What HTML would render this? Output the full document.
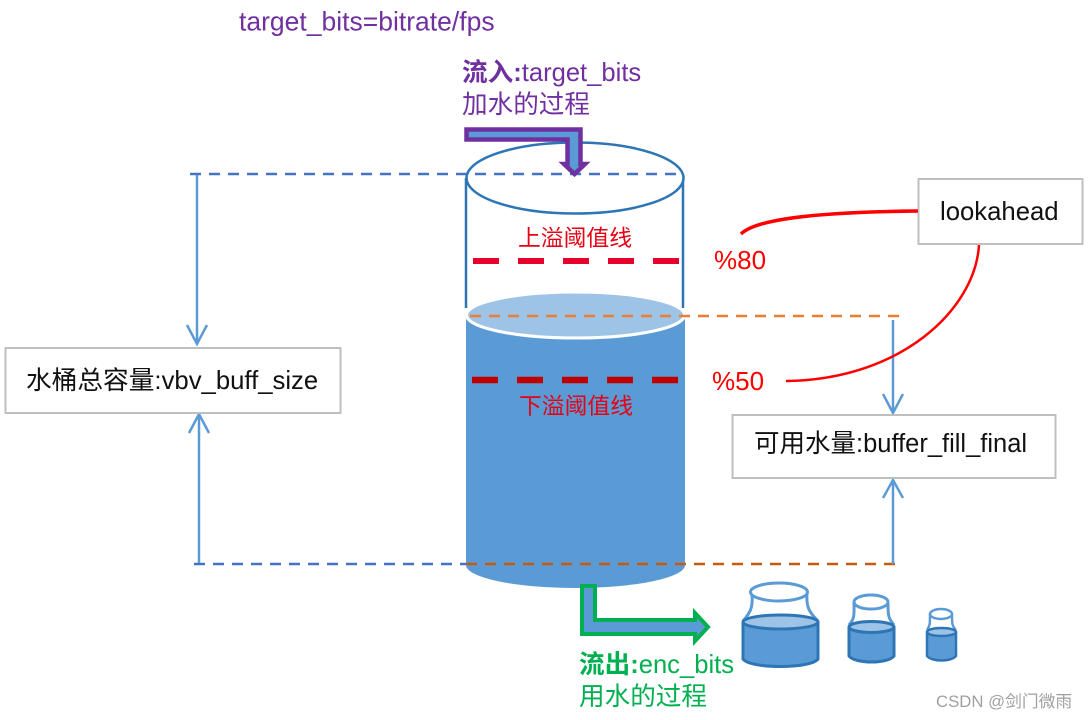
<!DOCTYPE html>
<html>
<head>
<meta charset="utf-8">
<style>
html,body{margin:0;padding:0;background:#fff}
svg{display:block}
text{font-family:"Liberation Sans","Noto Sans CJK SC",sans-serif}
</style>
</head>
<body>
<svg width="1088" height="720" viewBox="0 0 1088 720" xmlns="http://www.w3.org/2000/svg">
<rect width="1088" height="720" fill="#fff"/>

<!-- title -->
<text x="239" y="30.500" font-size="26.500" fill="#7030a0">target_bits=bitrate/fps</text>

<!-- cylinder glass -->
<line x1="466" y1="178" x2="466" y2="308" stroke="#2e75b6" stroke-width="2.500"/>
<line x1="683" y1="178" x2="683" y2="308" stroke="#2e75b6" stroke-width="2.500"/>
<ellipse cx="575" cy="178" rx="108.500" ry="35.500" fill="#fff" stroke="#2e75b6" stroke-width="2.500"/>

<!-- water -->
<path d="M466 315 V565 A109.500 23 0 0 0 685 565 V315 Z" fill="#5b9bd5"/>
<ellipse cx="575.500" cy="315" rx="109" ry="23" fill="#9dc3e6" stroke="#fff" stroke-width="3"/>

<!-- dashed levels -->
<line x1="190" y1="174" x2="684" y2="174" stroke="#4472c4" stroke-width="2.500" stroke-dasharray="11 8"/>
<line x1="470" y1="316" x2="901" y2="316" stroke="#ed7d31" stroke-width="2.500" stroke-dasharray="11 8"/>
<line x1="194" y1="564" x2="466" y2="564" stroke="#4472c4" stroke-width="2.500" stroke-dasharray="11 8"/>
<line x1="466" y1="564" x2="900" y2="564" stroke="#c55a11" stroke-width="2.500" stroke-dasharray="11 8"/>

<!-- thresholds -->
<line x1="473" y1="261" x2="680" y2="261" stroke="#e8002d" stroke-width="6" stroke-dasharray="26 19"/>
<line x1="472" y1="380" x2="680" y2="380" stroke="#c00000" stroke-width="6.500" stroke-dasharray="26 19"/>
<text x="518" y="246" font-size="22.800" fill="#e60012">上溢阈值线</text>
<text x="519" y="414" font-size="22.800" fill="#e60012">下溢阈值线</text>

<!-- inflow arrow -->
<path d="M466.500 129.500 H580.500 V164 H585 L574.500 174 L564 164 H567.500 V139.500 H466.500 Z" fill="#5b9bd5" stroke="#7030a0" stroke-width="4.500"/>
<text x="462" y="81" font-size="25.600" fill="#7030a0"><tspan font-weight="bold">流入:</tspan>target_bits</text>
<text x="462" y="113" font-size="25.600" fill="#7030a0">加水的过程</text>

<!-- outflow arrow -->
<path d="M582 586 H595 V620 H695 V613 L708 627 L695 641 V634 H582 Z" fill="#5b9bd5" stroke="#00b050" stroke-width="4"/>
<text x="579" y="673" font-size="25.600" fill="#00b050"><tspan font-weight="bold">流出:</tspan>enc_bits</text>
<text x="579" y="705" font-size="25.600" fill="#00b050">用水的过程</text>

<!-- left arrows and box -->
<g fill="none" stroke="#5b9bd5" stroke-width="2.500">
<line x1="197" y1="175" x2="197" y2="343"/>
<path d="M187 325 L197 344 L207 325"/>
<line x1="199" y1="563" x2="199" y2="414"/>
<path d="M189 433 L199 414 L209 433"/>
<line x1="893" y1="320" x2="893" y2="412"/>
<path d="M883 394 L893 413 L903 394"/>
<line x1="893" y1="564" x2="893" y2="480"/>
<path d="M883 498 L893 480 L903 498"/>
</g>
<rect x="5.500" y="348" width="335" height="65" fill="#fff" stroke="#bfbfbf" stroke-width="2"/>
<text x="26" y="389" font-size="25.700" fill="#111">水桶总容量:vbv_buff_size</text>

<!-- right boxes -->
<rect x="918.500" y="179" width="164" height="65" fill="#fff" stroke="#bfbfbf" stroke-width="2"/>
<text x="940" y="220" font-size="25.700" fill="#111">lookahead</text>
<rect x="732.500" y="415" width="323" height="63" fill="#fff" stroke="#bfbfbf" stroke-width="2"/>
<text x="754" y="452" font-size="25.500" fill="#111">可用水量:buffer_fill_final</text>

<!-- red curves -->
<path d="M741 234 C755 220 810 212 918 211" fill="none" stroke="#f00" stroke-width="3.500"/>
<path d="M979 245 C975 310 900 380 786 381" fill="none" stroke="#f00" stroke-width="2.500"/>
<text x="714" y="269" font-size="26" fill="#f00">%80</text>
<text x="712" y="390" font-size="26" fill="#f00">%50</text>

<!-- small buckets -->
<g stroke-width="3" stroke-linejoin="round">
<path d="M752 593 C753 607 751 612 743 621 M807 593 C806 607 809 612 818 621" fill="none" stroke="#5b9bd5"/>
<path d="M743 622 V659 C750 669 811 669 818 659 V622 Z" fill="#5b9bd5" stroke="#2e75b6"/>
<ellipse cx="780.500" cy="622" rx="37.500" ry="7" fill="#9dc3e6" stroke="#2e75b6"/>
<ellipse cx="779" cy="592" rx="28.500" ry="9" fill="#fff" stroke="#5b9bd5"/>

<path d="M854 603 C854 615 855 618 849 625 M888 603 C888 615 888 618 894 625" fill="none" stroke="#5b9bd5"/>
<path d="M849 627 V656 C855 664 888 664 894 656 V627 Z" fill="#5b9bd5" stroke="#2e75b6"/>
<ellipse cx="871.500" cy="627" rx="22.500" ry="5.500" fill="#9dc3e6" stroke="#2e75b6"/>
<ellipse cx="871" cy="602" rx="17" ry="7" fill="#fff" stroke="#5b9bd5"/>

<path d="M930 614 C930 624 930 626 927 630 M952 614 C952 624 952 626 956 630" fill="none" stroke="#5b9bd5" stroke-width="2.500"/>
<path d="M927 632 V656 C932 662 951 662 956 656 V632 Z" fill="#5b9bd5" stroke="#2e75b6" stroke-width="2.500"/>
<ellipse cx="941.500" cy="632" rx="14.500" ry="4" fill="#9dc3e6" stroke="#2e75b6" stroke-width="2.500"/>
<ellipse cx="941" cy="614" rx="11" ry="5" fill="#fff" stroke="#5b9bd5" stroke-width="2.500"/>
</g>

<!-- watermark -->
<text x="936" y="707" font-size="16.750" fill="#a0a0a0">CSDN @剑门微雨</text>
</svg>
</body>
</html>
